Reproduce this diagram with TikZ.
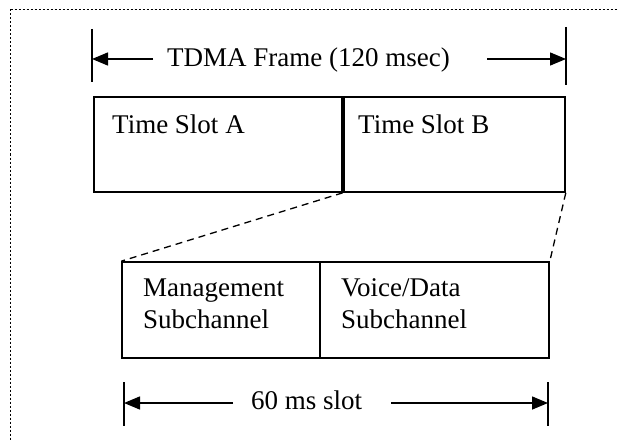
\documentclass[tikz,border=0pt]{standalone}
\usepackage{fontspec}
\setmainfont{Liberation Serif}
\usetikzlibrary{arrows.meta}
\begin{document}
\begin{tikzpicture}[x=1pt,y=-1pt,
  box/.style={draw,line width=1.6pt,inner sep=0pt,minimum height=#1},
  lbl/.style={anchor=base west,inner sep=0pt,font=\fontsize{27}{32}\selectfont,align=left},
  tick/.style={line width=1.5pt},
  dimarrow/.style={line width=1.5pt,-{Triangle[length=16pt,width=13pt]}},
  zoomline/.style={line width=1.3pt,dash pattern=on 7pt off 5pt}]
\useasboundingbox (0,0) rectangle (618,441);
\draw[line width=1.6pt,dash pattern=on 2pt off 2pt] (10.5,9.5) -- (640,9.5);
\draw[line width=1.6pt,dash pattern=on 2pt off 2pt] (10.5,9.5) -- (10.5,460);
% top frame
\node[box=95pt,minimum width=248pt] (slotA) at (218,144.5) {};
\node[box=95pt,minimum width=223pt] (slotB) at (453.5,144.5) {};
\draw[line width=3.4pt] (slotA.north east) -- (slotA.south east);
\node[lbl] (tA) at (112,133) {Time Slot A};
\node[lbl] (tB) at (358,133) {Time Slot B};
% bottom slot
\node[box=96pt,minimum width=198pt] (mgmt) at (221,310) {};
\node[box=96pt,minimum width=229pt] (voice) at (434.5,310) {};
\node[lbl] (tM) at (143,328) {Management\\Subchannel};
\node[lbl] (tV) at (341,328) {Voice/Data\\Subchannel};
% zoom lines
\draw[zoomline] (slotA.south east) -- (mgmt.north west);
\draw[zoomline] (slotB.south east) -- (voice.north east);
% top dimension
\coordinate (t1a) at (92,29); \coordinate (t1b) at (92,82);
\coordinate (t2a) at (566,27); \coordinate (t2b) at (566,85);
\draw[tick] (t1a) -- (t1b);
\draw[tick] (t2a) -- (t2b);
\node[lbl] (tdma) at (167,67) {TDMA Frame (120 msec)};
\coordinate (la) at (153,59); \coordinate (lb) at (92,59);
\coordinate (ra) at (487,59); \coordinate (rb) at (566,59);
\draw[dimarrow] (la) -- (lb);
\draw[dimarrow] (ra) -- (rb);
% bottom dimension
\coordinate (b1a) at (124,382); \coordinate (b1b) at (124,426);
\coordinate (b2a) at (548,382); \coordinate (b2b) at (548,426);
\draw[tick] (b1a) -- (b1b);
\draw[tick] (b2a) -- (b2b);
\node[lbl] (slot) at (251,409) {60 ms slot};
\coordinate (bla) at (233,403); \coordinate (blb) at (124,403);
\coordinate (bra) at (391,403); \coordinate (brb) at (548,403);
\draw[dimarrow] (bla) -- (blb);
\draw[dimarrow] (bra) -- (brb);
\end{tikzpicture}
\end{document}
